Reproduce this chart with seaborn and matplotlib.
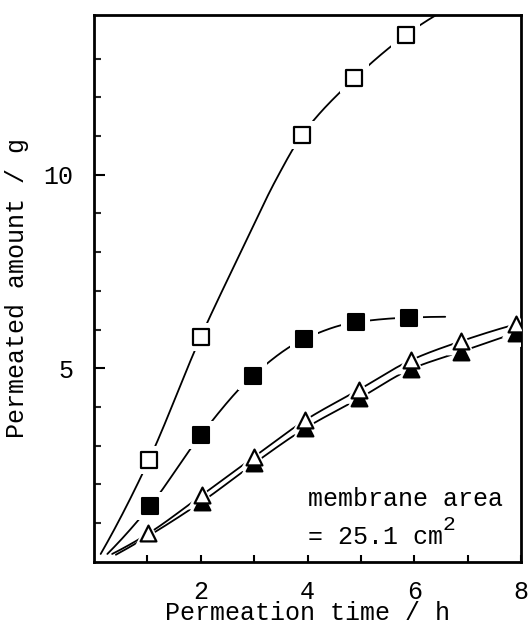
import numpy as np
import matplotlib
matplotlib.use("Agg")
import matplotlib.pyplot as plt
import seaborn as sns

# ---- data ----
open_sq_t = [1.03, 2.0, 3.9, 4.88, 5.84]
open_sq_w = [2.63, 5.81, 11.03, 12.49, 13.61]
open_sq_curve_t = [0.125, 1.03, 2.0, 2.75, 3.42, 3.9, 4.88, 5.84, 6.5]
open_sq_curve_w = [0.2, 2.63, 5.81, 8.0, 9.9, 11.03, 12.49, 13.61, 14.2]

fill_sq_t = [1.05, 2.0, 2.97, 3.93, 4.9, 5.9]
fill_sq_w = [1.44, 3.27, 4.80, 5.75, 6.19, 6.31]
fill_sq_curve_t = [0.25, 1.05, 2.0, 2.97, 3.93, 4.9, 5.9, 6.58]
fill_sq_curve_w = [0.2, 1.44, 3.27, 4.80, 5.75, 6.19, 6.31, 6.33]

open_tri_t = [1.02, 2.02, 3.0, 3.96, 4.97, 5.94, 6.88, 7.91]
open_tri_w = [0.73, 1.72, 2.71, 3.66, 4.45, 5.21, 5.70, 6.14]
open_tri_curve_t = [0.34] + open_tri_t
open_tri_curve_w = [0.2] + open_tri_w

fill_tri_t = [2.02, 3.0, 3.96, 4.97, 5.94, 6.88, 7.91]
fill_tri_w = [1.55, 2.54, 3.45, 4.22, 4.98, 5.43, 5.92]
fill_tri_curve_t = [0.41] + fill_tri_t
fill_tri_curve_w = [0.18] + fill_tri_w

x_major = [2, 4, 6, 8]
x_minor = [1, 3, 5, 7]
y_major = [5, 10]
y_minor = [1, 2, 3, 4, 6, 7, 8, 9, 11, 12, 13]


def pchip(xk, yk, xs):
    xk = np.asarray(xk, float)
    yk = np.asarray(yk, float)
    h = np.diff(xk)
    dl = np.diff(yk) / h
    n = len(xk)
    d = np.zeros(n)
    for k in range(1, n - 1):
        if dl[k - 1] * dl[k] > 0:
            w1 = 2 * h[k] + h[k - 1]
            w2 = h[k] + 2 * h[k - 1]
            d[k] = (w1 + w2) / (w1 / dl[k - 1] + w2 / dl[k])
    def end(h0, h1, d0, d1):
        v = ((2 * h0 + h1) * d0 - h0 * d1) / (h0 + h1)
        if np.sign(v) != np.sign(d0):
            v = 0.0
        elif np.sign(d0) != np.sign(d1) and abs(v) > abs(3 * d0):
            v = 3 * d0
        return v
    d[0] = end(h[0], h[1], dl[0], dl[1])
    d[-1] = end(h[-1], h[-2], dl[-1], dl[-2])
    idx = np.clip(np.searchsorted(xk, xs) - 1, 0, n - 2)
    t = (xs - xk[idx]) / h[idx]
    h00 = 2 * t**3 - 3 * t**2 + 1
    h10 = t**3 - 2 * t**2 + t
    h01 = -2 * t**3 + 3 * t**2
    h11 = t**3 - t**2
    return (h00 * yk[idx] + h10 * h[idx] * d[idx]
            + h01 * yk[idx + 1] + h11 * h[idx] * d[idx + 1])


sns.set_style("ticks")
FONT = ["Liberation Mono", "DejaVu Sans Mono"]
plt.rcParams["font.family"] = FONT
fs = 18

fig = plt.figure(figsize=(5.31, 6.26), dpi=100)
ax = fig.add_axes([94 / 531, 1 - 561.7 / 626, (521 - 94) / 531, (561.7 - 15) / 626])

lw = 1.3
series = [
    (fill_tri_curve_t, fill_tri_curve_w),
    (open_tri_curve_t, open_tri_curve_w),
    (fill_sq_curve_t, fill_sq_curve_w),
    (open_sq_curve_t, open_sq_curve_w),
]
for ct, cw in series:
    xs = np.linspace(ct[0], ct[-1], 300)
    sns.lineplot(x=xs, y=pchip(ct, cw, xs), ax=ax, color="black", lw=lw,
                 sort=False, estimator=None, zorder=2)

# white halos to break the lines around markers
for t, w, m in [(open_sq_t, open_sq_w, "s"), (fill_sq_t, fill_sq_w, "s"),
                (open_tri_t, open_tri_w, "^"), (fill_tri_t, fill_tri_w, "^")]:
    sns.scatterplot(x=t, y=w, ax=ax, marker=m, s=420, color="white",
                    edgecolor="none", linewidth=0, zorder=3)

sns.scatterplot(x=fill_tri_t, y=fill_tri_w, ax=ax, marker="^", s=130,
                color="black", edgecolor="black", linewidth=1.5, zorder=4)
sns.scatterplot(x=open_tri_t, y=open_tri_w, ax=ax, marker="^", s=130,
                color="white", edgecolor="black", linewidth=1.6, zorder=5)
sns.scatterplot(x=fill_sq_t, y=fill_sq_w, ax=ax, marker="s", s=130,
                color="black", edgecolor="black", linewidth=1.5, zorder=5)
sns.scatterplot(x=open_sq_t, y=open_sq_w, ax=ax, marker="s", s=130,
                color="white", edgecolor="black", linewidth=1.6, zorder=5)

ax.set_xlim(0, 8)
ax.set_ylim(0, 14.13)
ax.set_xticks(x_major)
ax.set_xticks(x_minor, minor=True)
ax.set_yticks(y_major)
ax.set_yticks(y_minor, minor=True)
ax.set_xticklabels([str(v) for v in x_major])
ax.set_yticklabels([str(v) for v in y_major])

for s in ax.spines.values():
    s.set_linewidth(2.0)
    s.set_color("black")
    s.set_visible(True)

ax.tick_params(axis="x", which="both", direction="in", length=5, width=1.5,
               pad=13, labelsize=fs, top=False, colors="black")
ax.tick_params(axis="y", which="major", direction="in", length=8, width=1.5,
               pad=15, labelsize=fs, right=False, colors="black")
ax.tick_params(axis="y", which="minor", direction="in", length=5, width=1.5,
               right=False)

ax.set_xlabel("Permeation time / h", fontsize=fs, color="black", va="center")
ax.xaxis.set_label_coords(0.5, -(613.5 - 561.7) / (561.7 - 15))
ax.set_ylabel("Permeated amount / g", fontsize=fs, labelpad=10, color="black")

ax.text(4.0, 1.63, "membrane area", fontsize=fs, ha="left", va="center",
        color="black")
ax.text(4.0, 0.65, "= 25.1 cm", fontsize=fs, ha="left", va="center",
        color="black")
ax.annotate("2", xy=(4.0, 0.65), xytext=(9 * 0.6 * fs, 9),
            textcoords="offset points", fontsize=fs * 0.85, ha="left",
            va="center", color="black")

fig.savefig("out.png", dpi=100)
